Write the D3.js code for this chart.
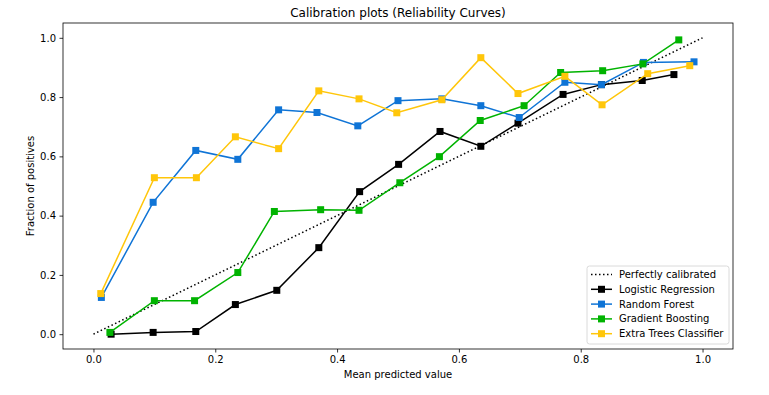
<!DOCTYPE html>
<html>
<head>
<meta charset="utf-8">
<script src="https://cdn.jsdelivr.net/npm/d3@7"></script>
<style>
  body { margin: 0; background: #fff; }
  svg { display: block; font-family: "DejaVu Sans", sans-serif; }
</style>
</head>
<body>
<div id="chart"></div>
<script>
// Data
const perfect = [[0, 0], [1, 1]];

const logisticX = [0.029, 0.098, 0.168, 0.233, 0.301, 0.370, 0.437, 0.501, 0.569, 0.636, 0.697, 0.771, 0.834, 0.901, 0.953];
const logisticY = [0.000, 0.006, 0.009, 0.100, 0.148, 0.292, 0.481, 0.573, 0.684, 0.634, 0.712, 0.809, 0.842, 0.856, 0.876];

const forestX = [0.013, 0.098, 0.168, 0.237, 0.304, 0.367, 0.434, 0.500, 0.572, 0.636, 0.699, 0.774, 0.834, 0.903, 0.986];
const forestY = [0.124, 0.445, 0.620, 0.590, 0.757, 0.748, 0.703, 0.788, 0.794, 0.771, 0.731, 0.850, 0.842, 0.917, 0.919];

const boostingX = [0.027, 0.100, 0.166, 0.237, 0.297, 0.373, 0.436, 0.503, 0.568, 0.635, 0.707, 0.767, 0.836, 0.902, 0.961];
const boostingY = [0.006, 0.113, 0.113, 0.208, 0.414, 0.420, 0.418, 0.511, 0.599, 0.721, 0.771, 0.883, 0.889, 0.912, 0.993];

const treesX = [0.012, 0.100, 0.169, 0.233, 0.304, 0.370, 0.436, 0.498, 0.572, 0.636, 0.697, 0.774, 0.835, 0.910, 0.979];
const treesY = [0.137, 0.528, 0.528, 0.666, 0.626, 0.821, 0.794, 0.747, 0.791, 0.933, 0.812, 0.870, 0.774, 0.879, 0.906];

const tickValues = [0, 0.2, 0.4, 0.6, 0.8, 1.0];

const series = [
    {name: 'Logistic Regression', color: '#000000', xs: logisticX, ys: logisticY},
    {name: 'Random Forest', color: '#0f74d6', xs: forestX, ys: forestY},
    {name: 'Gradient Boosting', color: '#00b300', xs: boostingX, ys: boostingY},
    {name: 'Extra Trees Classifier', color: '#ffc60a', xs: treesX, ys: treesY}
];

const width = 769;
const height = 395;
const margin = {top: 23, right: 36, bottom: 46, left: 63};
const chartWidth = width - margin.left - margin.right;
const chartHeight = height - margin.top - margin.bottom;

const xScale = d3.scaleLinear().domain([-0.05, 1.05]).range([0, chartWidth]);
const yScale = d3.scaleLinear().domain([-0.05, 1.05]).range([chartHeight, 0]);

const svg = d3.select('#chart')
  .append('svg')
    .attr('width', width)
    .attr('height', height);

const container = svg.append('g')
    .attr('transform', `translate(${margin.left},${margin.top})`);

// axes, matplotlib look
const xAxis = d3.axisBottom(xScale).tickValues(tickValues).tickFormat(d3.format('.1f')).tickSize(3.5).tickPadding(3.5);
const yAxis = d3.axisLeft(yScale).tickValues(tickValues).tickFormat(d3.format('.1f')).tickSize(3.5).tickPadding(3.5);

function styleAxis(g) {
    g.select('.domain').remove();
    g.selectAll('.tick line').attr('stroke', '#000').attr('stroke-width', 0.8);
    g.selectAll('.tick text').attr('fill', '#000').style('font-size', '10px').style('font-family', '"DejaVu Sans", sans-serif');
}

container.append('g')
    .attr('transform', `translate(0,${chartHeight})`)
    .call(xAxis)
    .call(styleAxis);

container.append('g')
    .call(yAxis)
    .call(styleAxis);

const line = d3.line()
    .x(d => xScale(d[0]))
    .y(d => yScale(d[1]));

const plot = container.append('g');

// perfectly calibrated reference
plot.append('path')
    .datum(perfect)
    .attr('d', line)
    .attr('fill', 'none')
    .attr('stroke', '#000')
    .attr('stroke-width', 1.5)
    .attr('stroke-dasharray', '1.5,2.5');

const markerSize = 7;

series.forEach(s => {
    const points = s.xs.map((x, i) => [x, s.ys[i]]);
    const g = plot.append('g');
    g.append('path')
        .datum(points)
        .attr('d', line)
        .attr('fill', 'none')
        .attr('stroke', s.color)
        .attr('stroke-width', 1.5);
    g.selectAll('rect')
        .data(points)
      .enter()
      .append('rect')
        .attr('x', d => xScale(d[0]) - markerSize / 2)
        .attr('y', d => yScale(d[1]) - markerSize / 2)
        .attr('width', markerSize)
        .attr('height', markerSize)
        .attr('fill', s.color);
});

// spines
container.append('rect')
    .attr('width', chartWidth)
    .attr('height', chartHeight)
    .attr('fill', 'none')
    .attr('stroke', '#000')
    .attr('stroke-width', 0.8);

// labels
svg.append('text')
    .attr('x', margin.left + chartWidth / 2)
    .attr('y', 17)
    .attr('text-anchor', 'middle')
    .style('font-size', '12px')
    .text('Calibration plots (Reliability Curves)');

svg.append('text')
    .attr('x', margin.left + chartWidth / 2)
    .attr('y', 378)
    .attr('text-anchor', 'middle')
    .style('font-size', '10px')
    .text('Mean predicted value');

svg.append('text')
    .attr('transform', `translate(34,${margin.top + chartHeight / 2}) rotate(-90)`)
    .attr('text-anchor', 'middle')
    .style('font-size', '10px')
    .text('Fraction of positives');

// legend
const legendItems = [{name: 'Perfectly calibrated', color: '#000', dotted: true}].concat(series);
const legend = svg.append('g').attr('transform', 'translate(587,266)');

legend.append('rect')
    .attr('width', 142)
    .attr('height', 78)
    .attr('rx', 2.5)
    .attr('fill', '#fff')
    .attr('fill-opacity', 0.8)
    .attr('stroke', '#d0d0d0')
    .attr('stroke-width', 0.8);

const rows = legend.selectAll('.row')
    .data(legendItems)
  .enter()
  .append('g')
    .attr('transform', (d, i) => `translate(0,${8.5 + i * 14.8})`);

rows.append('line')
    .attr('x1', 4)
    .attr('x2', 25)
    .attr('stroke', d => d.color)
    .attr('stroke-width', 1.5)
    .attr('stroke-dasharray', d => d.dotted ? '1.5,2.5' : null);

rows.filter(d => !d.dotted)
  .append('rect')
    .attr('x', 14.5 - markerSize / 2)
    .attr('y', -markerSize / 2)
    .attr('width', markerSize)
    .attr('height', markerSize)
    .attr('fill', d => d.color);

rows.append('text')
    .attr('x', 32)
    .attr('dy', '0.35em')
    .style('font-size', '10px')
    .text(d => d.name);
</script>
</body>
</html>
